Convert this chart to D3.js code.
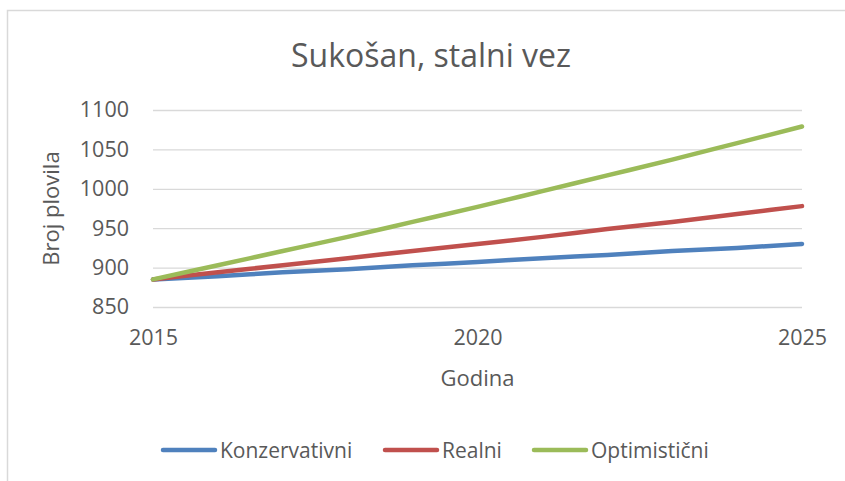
<!DOCTYPE html>
<html>
<head>
<meta charset="utf-8">
<script src="https://cdn.jsdelivr.net/npm/d3@7"></script>
<style>
  body { margin: 0; background: #fff; }
  text { font-family: "Open Sans", sans-serif; fill: #595959; }
</style>
</head>
<body>
<div id="chart"></div>
<script>
// Data (yearly values)
const years = [2015, 2016, 2017, 2018, 2019, 2020, 2021, 2022, 2023, 2024, 2025];
const konzervativni = [885, 889, 894, 898, 903, 907, 912, 916, 921, 925, 930];
const realni = [885, 894, 903, 912, 921, 930, 939, 949, 958, 968, 978];
const optimisticni = [885, 903, 921, 939, 958, 977, 997, 1017, 1037, 1058, 1079];
const xTicks = [2015, 2020, 2025];
const yTicks = [850, 900, 950, 1000, 1050, 1100];

const seriesNames = ["Konzervativni", "Realni", "Optimistični"];
const colors = ["#4f81bd", "#c0504d", "#9bbb59"];

const W = 845, H = 481;
const margin = {top: 110, right: 43, bottom: 174, left: 153},
      width = W - margin.left - margin.right,
      height = H - margin.top - margin.bottom;

const svg = d3.select("#chart")
    .append("svg")
    .attr("width", W)
    .attr("height", H);

// outer chart border (only left and top visible in the crop)
svg.append("rect")
    .attr("x", 7.5).attr("y", 10.5)
    .attr("width", W + 20).attr("height", H + 20)
    .attr("fill", "none")
    .attr("stroke", "#d9d9d9")
    .attr("stroke-width", 1.5);

// title
svg.append("text")
    .attr("x", 431).attr("y", 67)
    .attr("text-anchor", "middle")
    .style("font-size", "32px")
    .text("Sukošan, stalni vez");

const g = svg.append("g")
    .attr("transform", `translate(${margin.left},${margin.top})`);

const x = d3.scaleLinear().domain([2015, 2025]).range([0, width]);
const y = d3.scaleLinear().domain([850, 1100]).range([height, 0]);

// gridlines + y labels
const yAxis = g.append("g")
    .call(d3.axisLeft(y).tickValues(yTicks).tickSize(-width).tickPadding(24).tickFormat(d3.format("d")));
yAxis.select(".domain").remove();
yAxis.selectAll("line").attr("stroke", "#d9d9d9").attr("stroke-width", 1.3);
yAxis.selectAll("text").style("font-size", "21.5px").attr("fill", "#595959");

// x labels
const xAxis = g.append("g")
    .attr("transform", `translate(0,${height})`)
    .call(d3.axisBottom(x).tickValues(xTicks).tickSize(0).tickPadding(23).tickFormat(d3.format("d")));
xAxis.select(".domain").remove();
xAxis.selectAll("text").style("font-size", "21.5px").attr("fill", "#595959");

// axis titles
g.append("text")
    .attr("transform", `translate(-94,${height / 2}) rotate(-90)`)
    .attr("text-anchor", "middle")
    .style("font-size", "22px")
    .text("Broj plovila");

g.append("text")
    .attr("x", width / 2).attr("y", height + 79)
    .attr("text-anchor", "middle")
    .style("font-size", "22px")
    .text("Godina");

// lines
const allSeries = [konzervativni, realni, optimisticni];
const line = d3.line()
    .x((d, i) => x(years[i]))
    .y(d => y(d))
    .curve(d3.curveMonotoneX);

allSeries.forEach((s, k) => {
    g.append("path")
        .datum(s)
        .attr("fill", "none")
        .attr("stroke", colors[k])
        .attr("stroke-width", 4.5)
        .attr("stroke-linecap", "round")
        .attr("d", line);
});

// legend
const legendX = [161, 383, 532];
const legend = svg.append("g");
seriesNames.forEach((name, k) => {
    legend.append("line")
        .attr("x1", legendX[k] + 2).attr("x2", legendX[k] + 54)
        .attr("y1", 450).attr("y2", 450)
        .attr("stroke", colors[k])
        .attr("stroke-width", 4.5)
        .attr("stroke-linecap", "round");
    legend.append("text")
        .attr("x", legendX[k] + 59).attr("y", 457.5)
        .style("font-size", "21px")
        .text(name);
});
</script>
</body>
</html>
